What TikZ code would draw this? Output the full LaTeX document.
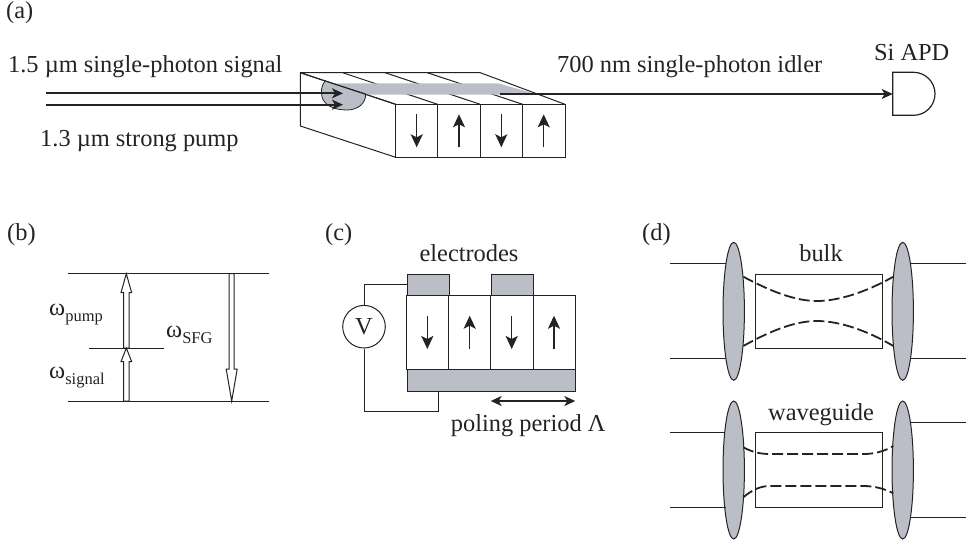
\documentclass[tikz,border=0pt]{standalone}
\usepackage{fontspec}
\setmainfont{Liberation Serif}
\usetikzlibrary{arrows.meta,shapes.geometric}
\definecolor{ink}{HTML}{232323}
\definecolor{fillgray}{HTML}{BBBEC6}
\newcommand{\mainsize}{\fontsize{24.4}{28}\selectfont}
\newcommand{\subsize}{\fontsize{16.5}{18}\selectfont}
\newcommand{\omsub}[1]{\textomega\raisebox{-6.5pt}{\subsize #1}}
\newcommand{\textomega}{ω}
\tikzset{
  thin line/.style={draw=ink,line width=1pt},
  thick line/.style={draw=ink,line width=1.7pt},
  beam/.style={draw=ink,line width=1.8pt,-{Stealth[length=11pt,width=10pt,inset=3pt]}},
  pole/.style={draw=ink,line width=1.5pt,-{Stealth[length=13pt,width=12pt,inset=3pt]}},
  label/.style={anchor=base west,inner sep=0pt,text=ink,font=\mainsize},
  clabel/.style={anchor=base,inner sep=0pt,text=ink,font=\mainsize},
  graybox/.style={draw=ink,line width=1pt,fill=fillgray},
  cell/.style={draw=ink,line width=1pt,fill=white},
  lens/.style={ellipse,draw=ink,line width=1pt,fill=fillgray,minimum width=21.4pt,minimum height=138pt,inner sep=0pt},
  ray/.style={draw=ink,line width=1.8pt,dash pattern=on 11pt off 4pt},
  hollow/.style={draw=ink,line width=1pt,fill=white,line join=miter},
}
\begin{document}
\begin{tikzpicture}[x=1pt,y=-1pt]
\useasboundingbox (0,0) rectangle (966,544);
% ---------- (a)
\node[label] (la) at (6,18) {(a)};
\node[label] (sigtxt) at (8,72) {1.5 µm single-photon signal};
\node[label] (pumptxt) at (40,146) {1.3 µm strong pump};
\node[label] (idlertxt) at (557,72) {700 nm single-photon idler};
\node[clabel] (apdtxt) at (911.7,60) {Si APD};
% crystal
\coordinate (bl) at (300.3,72.7);
\coordinate (br) at (480.3,72.7);
\coordinate (blb) at (300.3,126);
\coordinate (fl) at (395.7,104.3);
\coordinate (fr) at (565,104.3);
\coordinate (flb) at (395.7,157.3);
\draw[thin line,line join=round] (fl) -- (bl) -- (br) -- (fr);
\draw[thin line] (bl) -- (blb) -- (flb);
\draw[thin line] (342.7,72.7) -- (437.7,104.3);
\draw[thin line] (385,72.7) -- (480.3,104.3);
\draw[thin line] (427.3,72.7) -- (522.7,104.3);
\draw[cell] (395.7,104.3) rectangle (437.7,157.3);
\draw[cell] (437.7,104.3) rectangle (480.3,157.3);
\draw[cell] (480.3,104.3) rectangle (522.7,157.3);
\draw[cell] (522.7,104.3) rectangle (565,157.3);
\fill[fillgray] (332,83.3) -- (498,83.3) -- (537.4,94.5) -- (365.7,94.5) -- cycle;
\draw[graybox,line width=.8pt] (325,80.9) .. controls (321,86) and (321,92) .. (322,97)
  .. controls (324,104) and (332,110) .. (347,110)
  .. controls (358,110) and (366,103) .. (365.7,94) -- cycle;
\draw[thin line] (bl) -- (fl);
\draw[pole] (416.7,114.3) -- (416.7,147.3);
\draw[pole] (459,147.3) -- (459,114.3);
\draw[pole] (501.3,114.3) -- (501.3,147.3);
\draw[pole] (543.7,147.3) -- (543.7,114.3);
% detector
\coordinate (apdin) at (892.7,94);
\draw[thin line,line width=1.2pt] (892.7,72.3) -- (913.5,72.3) .. controls (925.4,72.3) and (935,81.9) .. (935,93.8) .. controls (935,105.7) and (925.4,115.3) .. (913.5,115.3) -- (892.7,115.3) -- cycle;
\coordinate (s0) at (46,93.3);
\coordinate (s1) at (343,93.3);
\coordinate (p0) at (46,104.7);
\coordinate (p1) at (343,105.5);
\coordinate (i0) at (500,94);
\draw[beam] (s0) -- (s1);
\draw[beam] (p0) -- (p0 -| p1);
\draw[beam] (i0) -- (apdin);
% ---------- (b)
\node[label] (lb) at (7,240) {(b)};
\coordinate (t0) at (68,273.7); \coordinate (t1) at (269,273.7);
\coordinate (b0) at (68,401);   \coordinate (b1) at (269,401);
\coordinate (m0) at (89,348);   \coordinate (m1) at (164,348);
\draw[thin line] (t0) -- (t1);
\draw[thin line] (b0) -- (b1);
\draw[hollow] (123.5,348) -- (123.5,292.7) -- (121,292.7) -- (126.3,273.7) -- (131.7,292.7) -- (129,292.7) -- (129,348) -- cycle;
\draw[hollow] (123.5,401) -- (123.5,361.7) -- (121,361.7) -- (126.3,348) -- (131.7,361.7) -- (129,361.7) -- (129,401) -- cycle;
\draw[thin line] (m0) -- (m1);
\draw[hollow] (229.2,273.7) -- (229.2,369) -- (226.2,369) -- (231.7,401) -- (237.2,369) -- (234.2,369) -- (234.2,273.7) -- cycle;
\node[label] (wp) at (49,315) {\omsub{pump}};
\node[label] (ws) at (49,378) {\omsub{signal}};
\node[label] (wf) at (166,337) {\omsub{SFG}};
% ---------- (c)
\node[label] (lc) at (325,240) {(c)};
\node[clabel] (eltxt) at (469,261.3) {electrodes};
\node[label] (poltxt) at (450.7,431.7) {poling period Λ};
\draw[cell] (406.7,295.3) rectangle (448.7,369.3);
\draw[cell] (448.7,295.3) rectangle (490.7,369.3);
\draw[cell] (490.7,295.3) rectangle (533.3,369.3);
\draw[cell] (533.3,295.3) rectangle (575.3,369.3);
\node[graybox,anchor=north west,minimum width=42pt,minimum height=21.3pt,inner sep=0pt] (e1) at (406.7,274) {};
\node[graybox,anchor=north west,minimum width=42.6pt,minimum height=21.3pt,inner sep=0pt] (e2) at (490.7,274) {};
\node[graybox,anchor=north west,minimum width=168.6pt,minimum height=21.4pt,inner sep=0pt] (e3) at (406.7,369.3) {};
\node[circle,draw=ink,line width=1pt,minimum size=42.6pt,inner sep=0pt,text=ink,font=\mainsize] (vm) at (364,326.7) {V};
\coordinate (w1) at (406.7,284.7);
\coordinate (w2) at (364,284.7);
\coordinate (w3) at (364,411.7);
\coordinate (w4) at (438,411.7);
\coordinate (w5) at (438,390.7);
\draw[thin line] (w1) -- (w2) -- (vm.north);
\draw[thin line] (vm.south) -- (w3) -- (w4) -- (w5);
\draw[pole] (427.3,315.7) -- (427.3,349);
\draw[pole] (469.7,349) -- (469.7,315.7);
\draw[pole] (511.7,315.7) -- (511.7,349);
\draw[pole] (554,349) -- (554,315.7);
\coordinate (d0) at (490.7,401);
\coordinate (d1) at (575.3,401);
\draw[draw=ink,line width=1.5pt,{Stealth[length=11pt,width=10pt,inset=3pt]}-{Stealth[length=11pt,width=10pt,inset=3pt]}] (d0) -- (d1);
% ---------- (d)
\node[label] (ld) at (642,240) {(d)};
\node[clabel] (bulktxt) at (821,261.7) {bulk};
\node[clabel] (wgtxt) at (821,420) {waveguide};
\draw[thin line] (755,274) rectangle (882,348);
\draw[thin line] (755,432.7) rectangle (882,507);
\node[lens] (l1) at (733.7,311.3) {};
\node[lens] (l2) at (902.7,311.3) {};
\node[lens] (l3) at (733.7,470) {};
\node[lens] (l4) at (902.7,470) {};
\coordinate (a1) at (670,263.3); \coordinate (a2) at (670,358.7);
\coordinate (a3) at (966,263.3); \coordinate (a4) at (966,358.7);
\coordinate (a5) at (670,432.7); \coordinate (a6) at (670,507);
\coordinate (a7) at (966,422);   \coordinate (a8) at (966,517.7);
\draw[thin line] (a1) -- (726,263.3);
\draw[thin line] (a2) -- (726,358.7);
\draw[thin line] (a3) -- (911,263.3);
\draw[thin line] (a4) -- (911,358.7);
\draw[thin line] (a5) -- (724.5,432.7);
\draw[thin line] (a6) -- (725.5,507);
\draw[thin line] (a7) -- (911,422);
\draw[thin line] (a8) -- (910,517.7);
\draw[ray] (743.3,276.7) .. controls (770,291) and (795,301) .. (816.7,301) .. controls (840,301) and (868,291) .. (893.3,276.7);
\draw[ray] (743.3,346) .. controls (770,331) and (795,321) .. (816.7,321) .. controls (840,321) and (868,331) .. (893.3,346);
\draw[ray] (743.3,447.3) .. controls (752,452) and (760,454) .. (770,454) -- (863.3,454) .. controls (875,454) and (885,451) .. (893.3,446);
\draw[ray] (743.3,497.3) .. controls (752,490) and (760,486) .. (770,486) -- (863.3,486) .. controls (875,486) and (885,489) .. (893.3,493.3);
\end{tikzpicture}
\end{document}
